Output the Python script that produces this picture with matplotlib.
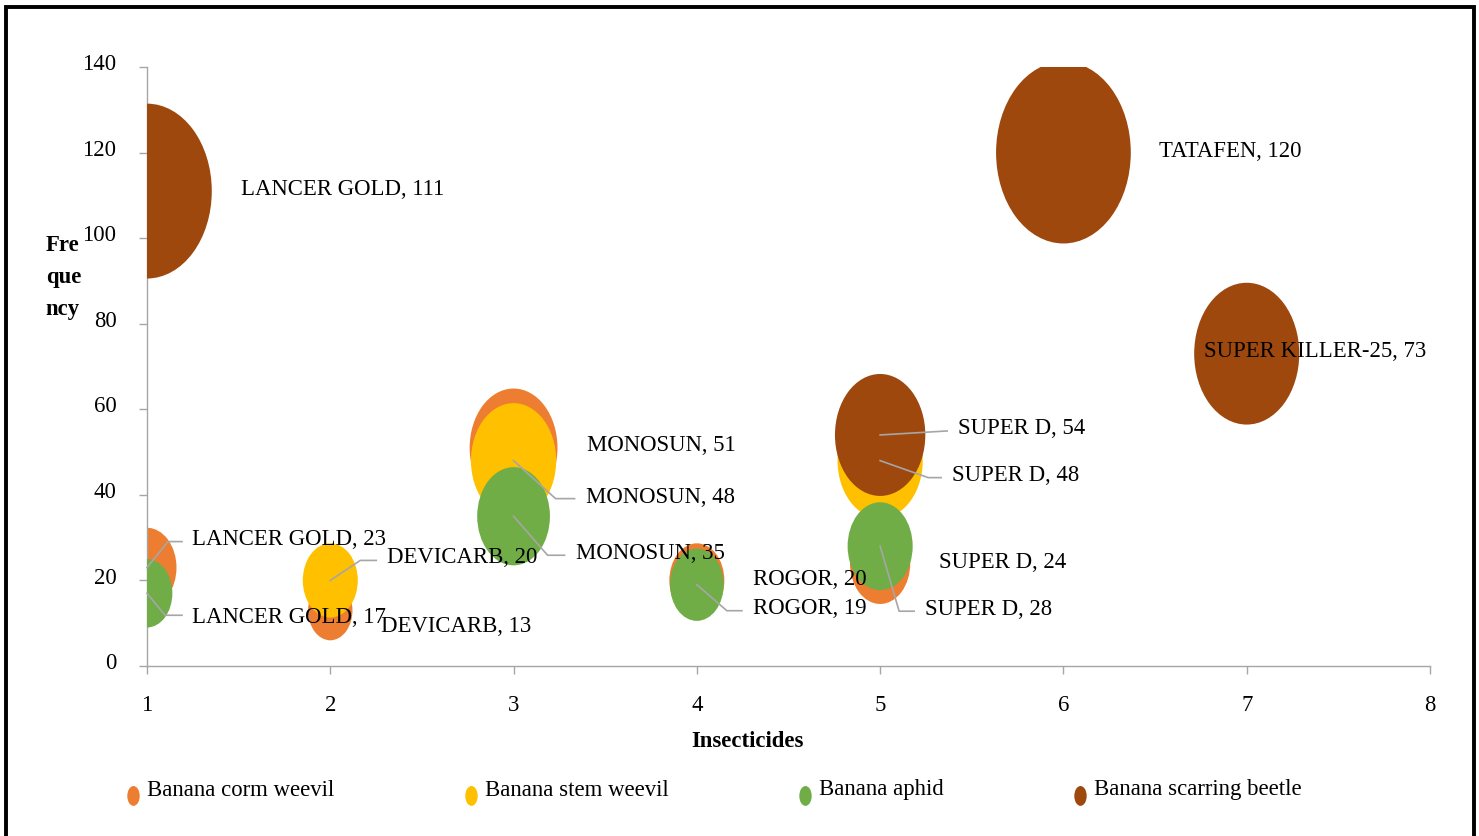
import numpy as np
import matplotlib
matplotlib.use("Agg")
import matplotlib.pyplot as plt
from matplotlib.path import Path
from matplotlib.markers import MarkerStyle
from matplotlib.lines import Line2D
from matplotlib.patches import Rectangle
import matplotlib.transforms as mtransforms

plt.rcParams['font.family'] = ['Liberation Serif', 'DejaVu Serif']

insecticides = ["LANCER GOLD", "DEVICARB", "MONOSUN", "ROGOR", "SUPER D", "TATAFEN", "SUPER KILLER-25"]

# series: x = insecticide number, value = frequency (also the bubble size)
corm_x = [1, 2, 3, 4, 5]
corm_val = [23, 13, 51, 20, 24]
stem_x = [2, 3, 5]
stem_val = [20, 48, 48]
aphid_x = [1, 3, 4, 5]
aphid_val = [17, 35, 19, 28]
beetle_x = [1, 5, 6, 7]
beetle_val = [111, 54, 120, 73]

series_names = ["Banana corm weevil", "Banana stem weevil", "Banana aphid", "Banana scarring beetle"]
colors = ["#ED7D31", "#FFC000", "#70AD47", "#9E480E"]

# label placement (pixel offsets from bubble centre, y downwards) and leader lines
label_off = [
    [(45, -30), (51, 14), (73, -4), (56, -3), (59, -3)],
    [(57, -25), (72, 35), (72, 13)],
    [(45, 22), (62, 35), (56, 22), (45, 61)],
    [(94, -4), (78, -8), (96, -3), (-43, -4)],
]
leaders = [
    [[(21, -26), (35, -26)], None, None, None, None],
    [[(30, -20), (46, -20)], [(42, 38), (61, 38)], [(48, 17), (61, 17)]],
    [[(18, 22), (35, 22)], [(34, 39), (51, 39)], [(30, 26), (45, 26)], [(19, 65), (34, 65)]],
    [None, [(67, -4)], None, None],
]

W, H, DPI = 1479, 836, 100
fig = plt.figure(figsize=(W / DPI, H / DPI), dpi=DPI)
ax = fig.add_axes([147 / W, (H - 666) / H, (1430 - 147) / W, (666 - 67) / H])

# elliptical bubble marker (Excel bubble stretched)
ell = Path.unit_circle().transformed(mtransforms.Affine2D().scale(6.15 / 8.3, 1.0))
bubble = MarkerStyle(ell)
size_k = 142.8

xs = [corm_x, stem_x, aphid_x, beetle_x]
vals = [corm_val, stem_val, aphid_val, beetle_val]

for i in range(4):
    ax.scatter(xs[i], vals[i], s=np.array(vals[i]) * size_k, marker=bubble,
               color=colors[i], linewidths=0, zorder=2 + i)

for i in range(4):
    for j, (x, v) in enumerate(zip(xs[i], vals[i])):
        dx, dy = label_off[i][j]
        ax.annotate(f"{insecticides[x - 1]}, {v}", (x, v), xytext=(dx, -dy - 2),
                    textcoords='offset pixels', ha='left', va='center',
                    fontsize=16.4, color='black', zorder=10, annotation_clip=False)
        ld = leaders[i][j]
        if ld is not None:
            tr = mtransforms.IdentityTransform() + mtransforms.ScaledTranslation(x, v, ax.transData)
            px = [0] + [p[0] for p in ld]
            py = [0] + [-p[1] for p in ld]
            ax.add_line(Line2D(px, py, transform=tr, color='#A6A6A6', lw=1.2,
                               zorder=9, clip_on=False))

ax.set_xlim(1, 8)
ax.set_ylim(0, 140)
ax.set_xticks(range(1, 9))
ax.set_yticks(range(0, 141, 20))
for s in ['top', 'right']:
    ax.spines[s].set_visible(False)
for s in ['left', 'bottom']:
    ax.spines[s].set_color('#A6A6A6')
    ax.spines[s].set_linewidth(1.0)
ax.tick_params(axis='both', colors='#A6A6A6', length=6, width=1.0, labelcolor='black',
               labelsize=16.4)
ax.tick_params(axis='y', pad=16)
ax.tick_params(axis='x', pad=15)
# Excel puts the value labels a little above their ticks
up = mtransforms.ScaledTranslation(0, 3.5 / 72, fig.dpi_scale_trans)
for lab in ax.get_yticklabels():
    lab.set_transform(lab.get_transform() + up)

ax.set_xlabel("Insecticides", fontsize=16.4, fontweight='bold')
ax.xaxis.set_label_coords(0.4677, -0.108)
ax.set_ylabel("Fre\nque\nncy", fontsize=16.4, fontweight='bold', rotation=0,
              ha='left', va='center', linespacing=1.68)
ax.yaxis.set_label_coords(-0.079, 0.648)

# legend marker sits a bit lower than the text
leg_ell = Path.unit_circle().transformed(
    mtransforms.Affine2D().scale(5 / 8, 1.0).translate(0, -0.75))
leg_marker = MarkerStyle(leg_ell)
handles = [Line2D([], [], linestyle='none', marker=leg_marker, markersize=25,
                  markerfacecolor=c, markeredgewidth=0) for c in colors]
leg = fig.legend(handles, series_names, loc='lower left', ncol=4,
                 bbox_to_anchor=(106 / W, 15 / H), frameon=False, fontsize=16.4,
                 handlelength=0.6, handletextpad=0.3, columnspacing=5.7)

# outer frame
fig.add_artist(Rectangle((6 / W, -0.05), (1474 - 6) / W, 1.05 - 7 / H,
                         transform=fig.transFigure, fill=False, edgecolor='black',
                         lw=2.8, clip_on=False))

fig.savefig("out.png", dpi=DPI)
